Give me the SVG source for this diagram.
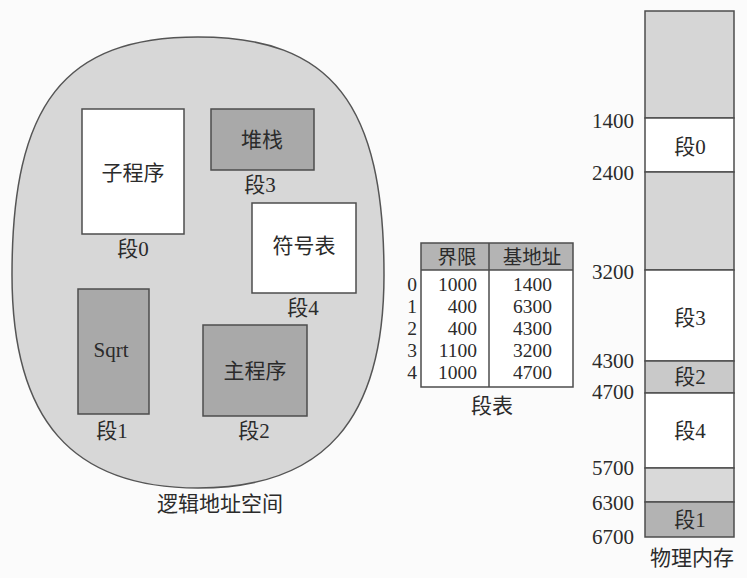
<svg xmlns="http://www.w3.org/2000/svg" width="747" height="578" viewBox="0 0 747 578">
<style>
text { font-family: "Liberation Serif", "Noto Sans CJK SC", serif; font-size: 21px; fill: #2b2b2b; }
.c { text-anchor: middle; }
.r { text-anchor: end; }
.t { font-size: 19.5px; }
.box { stroke: #4d4d4d; stroke-width: 1.5; }
.white { fill: #ffffff; }
.dark { fill: #a9a9a9; }
.light { fill: #d6d6d6; }
.line { stroke: #4d4d4d; stroke-width: 1.5; fill: none; }
</style>
<rect width="747" height="578" fill="#fbfbfb"/>

<g id="logical-space">
  <path d="M198,37 C332,37 384,104 384,275 C384,420 324,488 198,488 C72,488 12,420 12,275 C12,104 64,37 198,37 Z" fill="#d7d7d7" stroke="#555" stroke-width="1.5"/>
  <text class="c" x="220" y="511">逻辑地址空间</text>
</g>

<g id="seg0-subroutine">
  <rect class="box white" x="82" y="109" width="102" height="125"/>
  <text class="c" x="133" y="180">子程序</text>
  <text class="c" x="133" y="256">段0</text>
</g>
<g id="seg3-stack">
  <rect class="box dark" x="211" y="109" width="103" height="61"/>
  <text class="c" x="262" y="147">堆栈</text>
  <text class="c" x="260" y="192">段3</text>
</g>
<g id="seg4-symtab">
  <rect class="box white" x="252" y="203" width="104" height="90"/>
  <text class="c" x="304" y="253">符号表</text>
  <text class="c" x="303" y="315">段4</text>
</g>
<g id="seg1-sqrt">
  <rect class="box dark" x="78" y="289" width="71" height="125"/>
  <text class="c" x="111" y="357">Sqrt</text>
  <text class="c" x="112" y="438">段1</text>
</g>
<g id="seg2-main">
  <rect class="box dark" x="203" y="325" width="104" height="91"/>
  <text class="c" x="255" y="378">主程序</text>
  <text class="c" x="254" y="438">段2</text>
</g>

<g id="segment-table">
  <rect x="421" y="243" width="152" height="27" fill="#b4b4b4"/>
  <rect x="421" y="270" width="152" height="117" fill="#ffffff"/>
  <rect class="line" x="421" y="243" width="152" height="144"/>
  <line class="line" x1="421" y1="270" x2="573" y2="270"/>
  <line class="line" x1="489" y1="243" x2="489" y2="387"/>
  <text class="c t" x="457" y="264">界限</text>
  <text class="c t" x="532" y="264">基地址</text>
  <text class="c t" x="412" y="291">0</text>
  <text class="c t" x="412" y="313">1</text>
  <text class="c t" x="412" y="335">2</text>
  <text class="c t" x="412" y="357">3</text>
  <text class="c t" x="412" y="379">4</text>
  <text class="r t" x="477" y="291">1000</text>
  <text class="r t" x="477" y="313">400</text>
  <text class="r t" x="477" y="335">400</text>
  <text class="r t" x="477" y="357">1100</text>
  <text class="r t" x="477" y="379">1000</text>
  <text class="r t" x="552" y="291">1400</text>
  <text class="r t" x="552" y="313">6300</text>
  <text class="r t" x="552" y="335">4300</text>
  <text class="r t" x="552" y="357">3200</text>
  <text class="r t" x="552" y="379">4700</text>
  <text class="c" x="492" y="413">段表</text>
</g>

<g id="physical-memory">
  <g id="mem-free-top"><rect class="box light" x="645" y="11" width="89" height="107"/></g>
  <g id="mem-seg0"><rect class="box white" x="645" y="118" width="89" height="54"/><text class="c" x="690" y="154">段0</text></g>
  <g id="mem-free-mid"><rect class="box light" x="645" y="172" width="89" height="98"/></g>
  <g id="mem-seg3"><rect class="box white" x="645" y="270" width="89" height="91" stroke-width="2.2"/><text class="c" x="690" y="325">段3</text></g>
  <g id="mem-seg2"><rect class="box" fill="#c9c9c9" x="645" y="361" width="89" height="32"/><text class="c" x="690" y="384">段2</text></g>
  <g id="mem-seg4"><rect class="box white" x="645" y="393" width="89" height="75"/><text class="c" x="690" y="438">段4</text></g>
  <g id="mem-free-low"><rect class="box" fill="#d9d9d9" x="645" y="468" width="89" height="34"/></g>
  <g id="mem-seg1"><rect class="box" fill="#b3b3b3" x="645" y="502" width="89" height="35"/><text class="c" x="690" y="527">段1</text></g>
  <text class="r" x="634" y="128">1400</text>
  <text class="r" x="634" y="180">2400</text>
  <text class="r" x="634" y="279">3200</text>
  <text class="r" x="634" y="368">4300</text>
  <text class="r" x="634" y="399">4700</text>
  <text class="r" x="634" y="475">5700</text>
  <text class="r" x="634" y="510">6300</text>
  <text class="r" x="634" y="544">6700</text>
  <text class="c" x="692" y="565">物理内存</text>
</g>
</svg>
